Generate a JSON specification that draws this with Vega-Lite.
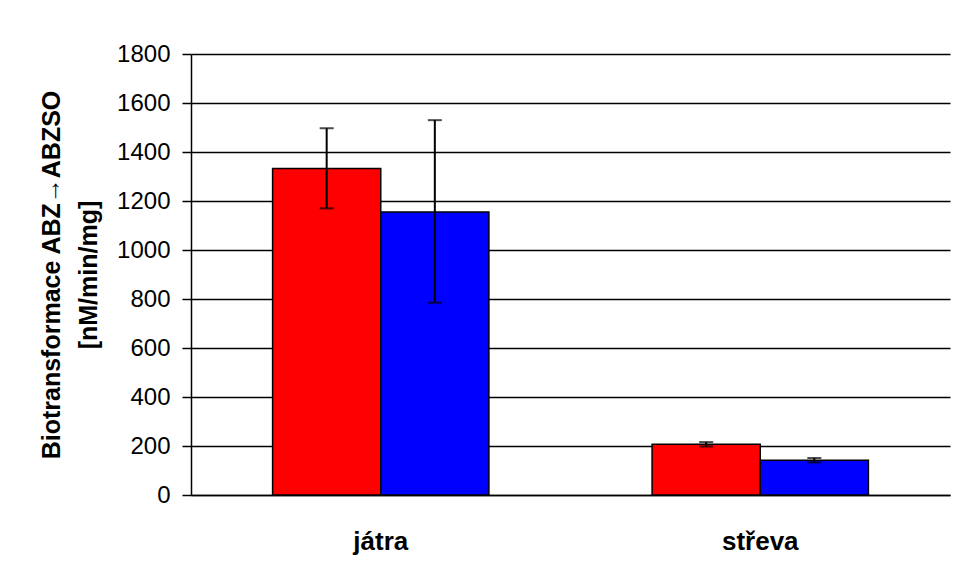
{
  "$schema": "https://vega.github.io/schema/vega-lite/v6.json",
  "width": 759,
  "height": 441,
  "autosize": {"type": "none"},
  "padding": {"left": 191, "top": 54, "right": 6, "bottom": 80},
  "background": "white",
  "config": {
    "font": "Liberation Sans",
    "view": {"stroke": null}
  },
  "data": {
    "values": [
      {"organ": "játra", "series": "A", "value": 1333, "lo": 1170, "hi": 1497},
      {"organ": "játra", "series": "B", "value": 1155, "lo": 785, "hi": 1530},
      {"organ": "střeva", "series": "A", "value": 207, "lo": 198, "hi": 216},
      {"organ": "střeva", "series": "B", "value": 142, "lo": 133, "hi": 151}
    ]
  },
  "encoding": {
    "x": {
      "field": "organ",
      "type": "nominal",
      "sort": ["játra", "střeva"],
      "scale": {"paddingInner": 0.43, "paddingOuter": 0.215},
      "axis": {
        "title": null,
        "labelAngle": 0,
        "labelFontSize": 26,
        "labelFontWeight": "bold",
        "labelColor": "black",
        "labelPadding": 33,
        "ticks": false,
        "domain": true,
        "domainColor": "black",
        "domainWidth": 1.5,
        "grid": false
      }
    },
    "xOffset": {"field": "series", "type": "nominal", "sort": ["A", "B"]}
  },
  "layer": [
    {
      "mark": {"type": "bar", "stroke": "black", "strokeWidth": 1.5},
      "encoding": {
        "y": {
          "field": "value",
          "type": "quantitative",
          "scale": {"domain": [0, 1800], "nice": false},
          "axis": {
            "values": [0, 200, 400, 600, 800, 1000, 1200, 1400, 1600, 1800],
            "format": "d",
            "title": ["Biotransformace ABZ→ABZSO", "[nM/min/mg]"],
            "titleFontSize": 25,
            "titleFontWeight": "bold",
            "titleColor": "black",
            "titleLineHeight": 37,
            "titlePadding": 15,
            "labelFontSize": 24,
            "labelColor": "black",
            "labelPadding": 12,
            "tickSize": 9,
            "tickColor": "black",
            "tickWidth": 1.5,
            "domainColor": "black",
            "domainWidth": 1.5,
            "grid": true,
            "gridColor": "black",
            "gridWidth": 1.5,
            "gridOpacity": 1
          }
        },
        "color": {
          "field": "series",
          "type": "nominal",
          "scale": {"domain": ["A", "B"], "range": ["#FF0000", "#0000FF"]},
          "legend": null
        }
      }
    },
    {
      "mark": {"type": "rule", "color": "black", "strokeWidth": 2},
      "encoding": {
        "y": {"field": "lo", "type": "quantitative"},
        "y2": {"field": "hi"}
      }
    },
    {
      "mark": {"type": "tick", "color": "black", "size": 14, "thickness": 2},
      "encoding": {
        "y": {"field": "lo", "type": "quantitative"}
      }
    },
    {
      "mark": {"type": "tick", "color": "black", "size": 14, "thickness": 2},
      "encoding": {
        "y": {"field": "hi", "type": "quantitative"}
      }
    }
  ]
}
